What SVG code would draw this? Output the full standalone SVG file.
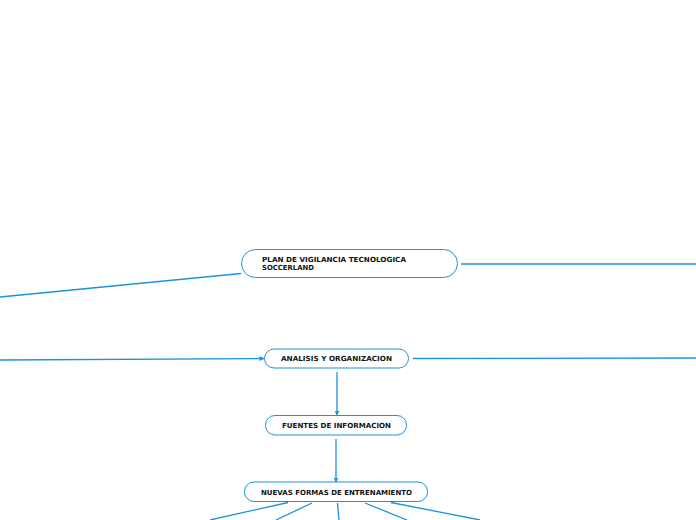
<svg xmlns="http://www.w3.org/2000/svg" width="696" height="520" viewBox="0 0 696 520">
<style>
.n{fill:#fff;stroke:#1b93dc;stroke-width:1}
.t{font-family:"DejaVu Sans",Verdana,sans-serif;font-weight:bold;font-size:7px;fill:#111}
.c{stroke:#1b93dc;stroke-width:1.3;fill:none}
</style>
<defs>
<marker id="a" viewBox="0 0 10 10" refX="9" refY="5" markerWidth="5" markerHeight="5" orient="auto" markerUnits="userSpaceOnUse">
<path d="M0,0 L10,5 L0,10 z" fill="#1b93dc"/>
</marker>
</defs>
<rect width="696" height="520" fill="#fff"/>
<g id="connectors">
<line class="c" x1="461" y1="264" x2="696" y2="264"/>
<line class="c" x1="241" y1="273.5" x2="0" y2="297"/>
<line class="c" x1="0" y1="360" x2="264" y2="358.5" marker-end="url(#a)"/>
<line class="c" x1="413" y1="358.5" x2="696" y2="358"/>
<line class="c" x1="337" y1="372" x2="337" y2="415" marker-end="url(#a)"/>
<line class="c" x1="336" y1="439" x2="336" y2="482" marker-end="url(#a)"/>
<line class="c" x1="288" y1="502.5" x2="210" y2="520"/>
<line class="c" x1="312" y1="503" x2="276" y2="520"/>
<line class="c" x1="337.5" y1="503" x2="339" y2="520"/>
<line class="c" x1="365" y1="503" x2="407" y2="520"/>
<line class="c" x1="391" y1="502.5" x2="480" y2="520"/>
</g>
<g id="node-plan">
<rect class="n" x="241.5" y="249.5" width="216" height="28" rx="14"/>
<text class="t" x="262" y="261.5" textLength="144" lengthAdjust="spacingAndGlyphs">PLAN DE VIGILANCIA TECNOLOGICA</text>
<text class="t" x="262" y="270" textLength="52" lengthAdjust="spacingAndGlyphs">SOCCERLAND</text>
</g>
<g id="node-analisis">
<rect class="n" x="264.5" y="349" width="144" height="19" rx="9.5"/>
<text class="t" x="281" y="361" textLength="111" lengthAdjust="spacingAndGlyphs">ANALISIS Y ORGANIZACION</text>
</g>
<g id="node-fuentes">
<rect class="n" x="265.5" y="415.5" width="141" height="19.5" rx="9.5"/>
<text class="t" x="282" y="428" textLength="109" lengthAdjust="spacingAndGlyphs">FUENTES DE INFORMACION</text>
</g>
<g id="node-nuevas">
<rect class="n" x="244.5" y="482" width="183" height="19.5" rx="9.5"/>
<text class="t" x="261" y="494.5" textLength="151" lengthAdjust="spacingAndGlyphs">NUEVAS FORMAS DE ENTRENAMIENTO</text>
</g>
</svg>
